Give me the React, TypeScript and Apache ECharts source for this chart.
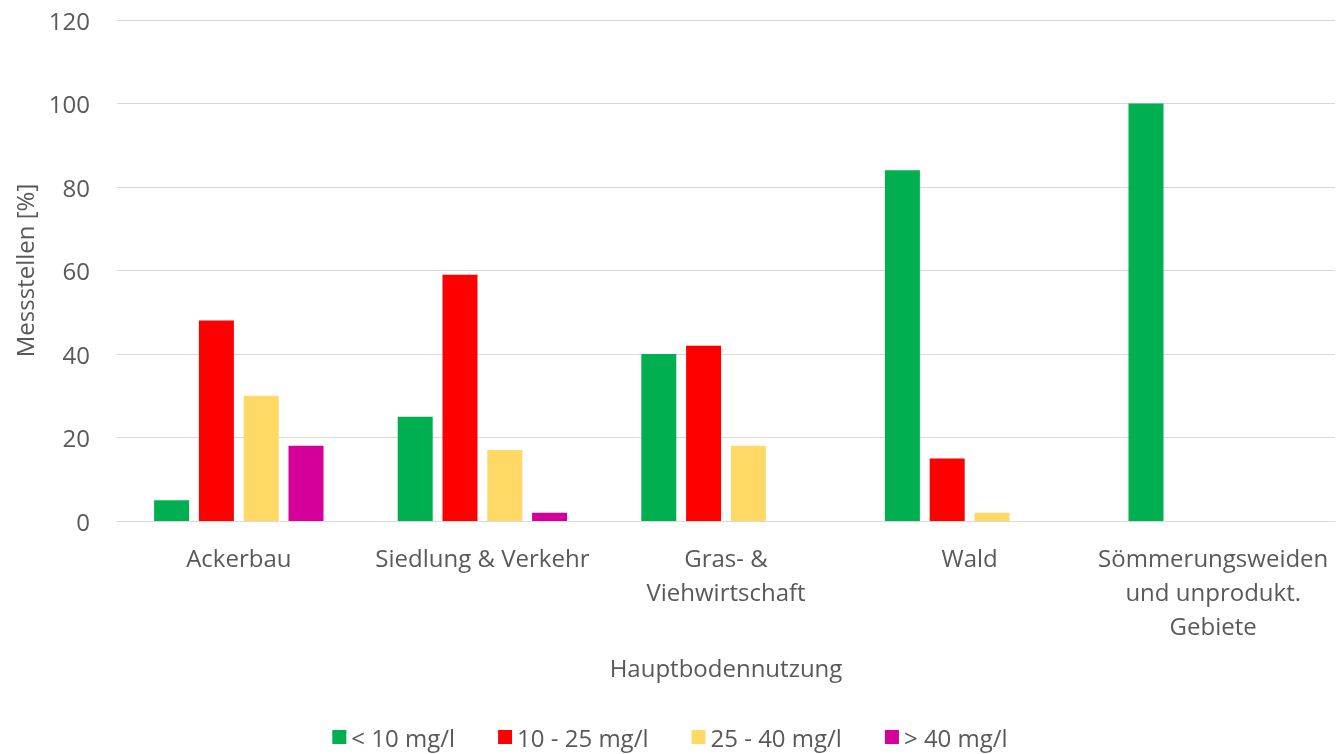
import React, { useEffect, useRef } from "react";
import * as echarts from "echarts";

const categories = [
  "Ackerbau",
  "Siedlung & Verkehr",
  "Gras- &\nViehwirtschaft",
  "Wald",
  "Sömmerungsweiden\nund unprodukt.\nGebiete",
];
const seriesNames = ["< 10 mg/l", "10 - 25 mg/l", "25 - 40 mg/l", "> 40 mg/l"];
const below10 = [5, 25, 40, 84, 100];
const from10to25 = [48, 59, 42, 15, 0];
const from25to40 = [30, 17, 18, 2, 0];
const above40 = [18, 2, 0, 0, 0];
const colors = ["#00B050", "#FF0000", "#FFD966", "#D5009A"];

const FONT = "'Open Sans', sans-serif";
const TXT = "#595959";
const FS = 24;

export default function App() {
  const ref = useRef<HTMLDivElement>(null);
  useEffect(() => {
    const chart = echarts.init(ref.current!, null, { renderer: "svg" });
    const values = [below10, from10to25, from25to40, above40];
    chart.setOption({
      animation: false,
      textStyle: { fontFamily: FONT },
      grid: { left: 117, right: 5, top: 20, bottom: 233, containLabel: false },
      legend: {
        top: 725,
        left: "center",
        itemWidth: 14,
        itemHeight: 14,
        itemGap: 43,
        padding: 0,
        icon: "rect",
        textStyle: { fontFamily: FONT, fontSize: FS, color: TXT, lineHeight: 22 },
        data: seriesNames,
      },
      xAxis: {
        type: "category",
        data: categories,
        axisTick: { show: false },
        axisLine: { lineStyle: { color: "#D9D9D9", width: 1 } },
        axisLabel: {
          fontFamily: FONT,
          fontSize: FS,
          color: TXT,
          lineHeight: 34,
          margin: 19,
          interval: 0,
        },
        name: "Hauptbodennutzung",
        nameLocation: "middle",
        nameGap: 134,
        nameTextStyle: { fontFamily: FONT, fontSize: FS, color: TXT },
      },
      yAxis: {
        type: "value",
        min: 0,
        max: 120,
        interval: 20,
        axisLine: { show: false },
        axisTick: { show: false },
        splitLine: { lineStyle: { color: "#D9D9D9", width: 1 } },
        axisLabel: { fontFamily: FONT, fontSize: FS, color: TXT, margin: 27 },
        name: "Messstellen [%]",
        nameLocation: "middle",
        nameGap: 81,
        nameRotate: 90,
        nameTextStyle: { fontFamily: FONT, fontSize: FS, color: TXT },
      },
      series: seriesNames.map((n, i) => ({
        name: n,
        type: "bar",
        data: values[i],
        barWidth: 35,
        barGap: "28%",
        itemStyle: { color: colors[i] },
      })),
    });
    return () => chart.dispose();
  }, []);
  return (
    <div
      ref={ref}
      style={{ position: "fixed", left: 0, top: 0, width: 1340, height: 754 }}
    />
  );
}
